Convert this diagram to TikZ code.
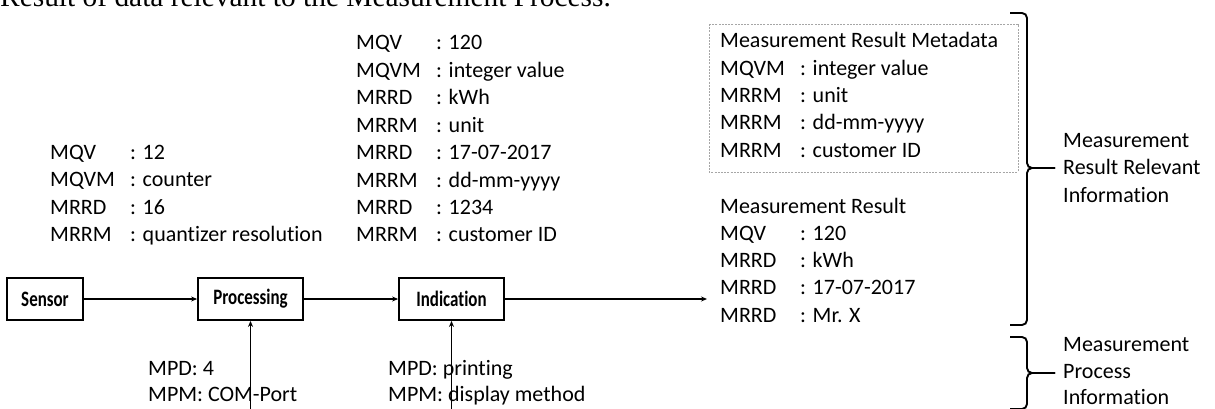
\documentclass[tikz,border=0pt]{standalone}
\usepackage{fontspec}
\setmainfont{Carlito}[Ligatures=NoCommon]
\newfontfamily\blockfont{Carlito}[FakeStretch=0.77, Ligatures=NoCommon]
\newfontfamily\paperfont{Liberation Serif}
\usetikzlibrary{arrows.meta}

\newcommand{\kv}[2]{\makebox[80pt][l]{#1}: #2}

\tikzset{
  txt/.style={anchor=base west, inner sep=0pt, font=\fontsize{22}{27}\selectfont},
  block/.style={draw, line width=1.8pt, minimum height=42pt, inner sep=0pt, font=\blockfont\fontsize{22}{26}\selectfont\bfseries},
  flow/.style={line width=1.1pt, -{Stealth[length=6pt, width=5pt]}},
  brc/.style={line width=1.9pt, rounded corners=5pt}
}

\begin{document}
\begin{tikzpicture}[x=1pt, y=-1pt]
    \useasboundingbox (0,0) rectangle (1215,409);

    % page text above the figure, cut off by the page edge
    \node[anchor=base west, inner sep=0pt, font=\paperfont\fontsize{29.4}{30}\selectfont] (cap) at (0,7) {Result of data relevant to the Measurement Process.};

    % measurement chain
    \node[block, minimum width=76pt] (sensor) at (45,299) {Sensor};
    \node[block, minimum width=105pt] (proc) at (250.5,299) {Processing};
    \node[block, minimum width=105pt] (ind) at (451.5,299) {Indication};
    \coordinate (out) at (707,299);
    \coordinate (procin) at (250.5,412);
    \coordinate (indin) at (451.5,412);

    \draw[flow] (sensor) -- (proc);
    \draw[flow] (proc) -- (ind);
    \draw[flow] (ind) -- (out);
    \draw[flow] (procin) -- (proc);
    \draw[flow] (indin) -- (ind);

    % sensor output
    \foreach \k/\v [count=\i] in {MQV/12, MQVM/counter, MRRD/16, MRRM/quantizer resolution} {
        \node[txt] (sens\i) at (50,{159+27.6*(\i-1)}) {\kv{\k}{\v}};
    }

    % processing output
    \foreach \k/\v [count=\i] in {MQV/120, MQVM/integer value, MRRD/kWh, MRRM/unit,
                                  MRRD/17-07-2017, MRRM/dd-mm-yyyy, MRRD/1234, MRRM/customer ID} {
        \node[txt] (proc\i) at (356,{50+27.4*(\i-1)}) {\kv{\k}{\v}};
    }

    % process information
    \node[txt] (mpd1) at (148,375) {MPD: 4};
    \node[txt] (mpm1) at (148,401) {MPM: COM-Port};
    \node[txt] (mpd2) at (388,375) {MPD: printing};
    \node[txt] (mpm2) at (388,401) {MPM: display method};

    % indication output
    \draw[gray!70, line width=0.8pt, dash pattern=on 2pt off 1.2pt] (709,24) rectangle (1018,172);
    \node[txt] (meta) at (720,48) {Measurement Result Metadata};
    \foreach \k/\v [count=\i] in {MQVM/integer value, MRRM/unit, MRRM/dd-mm-yyyy, MRRM/customer ID} {
        \node[txt] (meta\i) at (720,{48+27.3*\i}) {\kv{\k}{\v}};
    }
    \node[txt] (res) at (720,213) {Measurement Result};
    \foreach \k/\v [count=\i] in {MQV/120, MRRD/kWh, MRRD/17-07-2017, MRRD/Mr. X} {
        \node[txt] (res\i) at (720,{213+27.3*\i}) {\kv{\k}{\v}};
    }

    % braces
    \foreach \t/\m/\b in {13/168/325, 337/373/409} {
        \draw[brc] (1010,\t) -- (1027,\t) -- (1027,\m) -- (1055,\m);
        \draw[brc] (1055,\m) -- (1027,\m) -- (1027,\b) -- (1010,\b);
    }
    \node[txt] (rri1) at (1063,147) {Measurement};
    \node[txt] (rri2) at (1063,175) {Result Relevant};
    \node[txt] (rri3) at (1063,202) {Information};
    \node[txt] (mpi1) at (1063,351) {Measurement};
    \node[txt] (mpi2) at (1063,378) {Process};
    \node[txt] (mpi3) at (1063,404) {Information};
\end{tikzpicture}
\end{document}
